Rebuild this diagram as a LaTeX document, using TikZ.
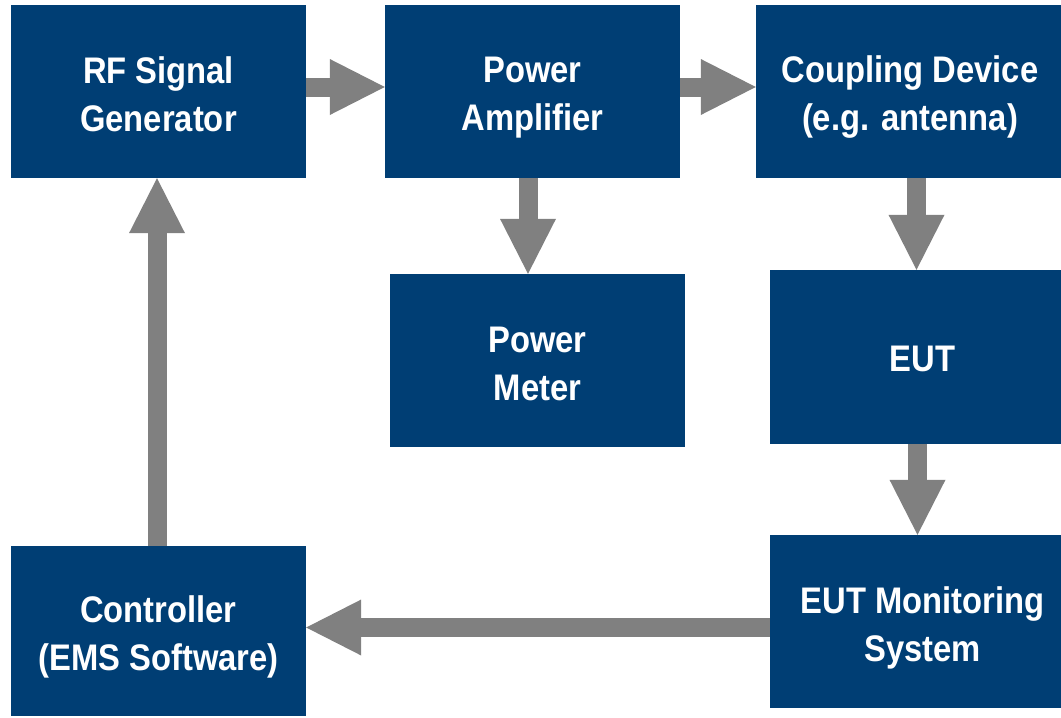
\documentclass[tikz,border=0pt]{standalone}
\usepackage{fontspec}
\newfontfamily\blockfont[FakeStretch=0.885]{Liberation Sans}
\usetikzlibrary{arrows.meta,calc}
\definecolor{boxblue}{RGB}{0,62,116}
\definecolor{arrowgray}{RGB}{128,128,128}
\begin{document}
\begin{tikzpicture}[x=1pt,y=-1pt,
  block/.style={fill=boxblue, inner sep=0pt},
  blocktext/.style={text=white, inner sep=0pt, align=center, yshift=-6pt,
    font=\blockfont\bfseries\fontsize{37}{48}\selectfont},
  flow/.style={arrowgray, line width=19pt,
    -{Triangle[width=56pt,length=55pt,line width=0pt]}}]
\clip (0,0) rectangle (1061,718);
\fill[white] (0,0) rectangle (1061,718);

% equipment blocks
\node[block, minimum width=295pt, minimum height=173pt,
  label={[blocktext, yshift=3pt]center:RF Signal\\Generator}] (rf) at (158.5,91.5) {};
\node[block, minimum width=295pt, minimum height=173pt,
  label={[blocktext]center:Power\\Amplifier}] (pa) at (532.5,91.5) {};
\node[block, minimum width=305pt, minimum height=173pt,
  label={[blocktext, xshift=1.5pt]center:Coupling Device\\(e.g. antenna)}] (cp) at (908.5,91.5) {};
\node[block, minimum width=295pt, minimum height=173pt,
  label={[blocktext, yshift=3pt]center:Power\\Meter}] (pm) at (537.5,360.5) {};
\node[block, minimum width=305pt, minimum height=174pt,
  label={[blocktext, yshift=4pt]center:EUT}] (eut) at (922.5,357) {};
\node[block, minimum width=305pt, minimum height=173pt,
  label={[blocktext]center:EUT Monitoring\\System}] (mon) at (922.5,621.5) {};
\node[block, minimum width=295pt, minimum height=170pt,
  label={[blocktext]center:Controller\\(EMS Software)}] (ctrl) at (158.5,631) {};

% signal flow
\draw[flow] ($(rf.east)+(0,-4.5)$) coordinate (a1) -- (a1 -| pa.west);
\draw[flow] ($(pa.east)+(0,-4.5)$) coordinate (a2) -- (a2 -| cp.west);
\draw[flow] ($(pa.south)+(-4.5,0)$) coordinate (a3) -- (a3 |- pm.north);
\draw[flow] ($(cp.south)+(8,0)$) coordinate (a4) -- (a4 |- eut.north);
\draw[flow] ($(eut.south)+(-5,0)$) coordinate (a5) -- (a5 |- mon.north);
\draw[flow] ($(mon.west)+(0,6)$) coordinate (a6) -- (a6 -| ctrl.east);
\draw[flow] ($(ctrl.north)+(-1.5,0)$) coordinate (a7) -- (a7 |- rf.south);
\end{tikzpicture}
\end{document}
